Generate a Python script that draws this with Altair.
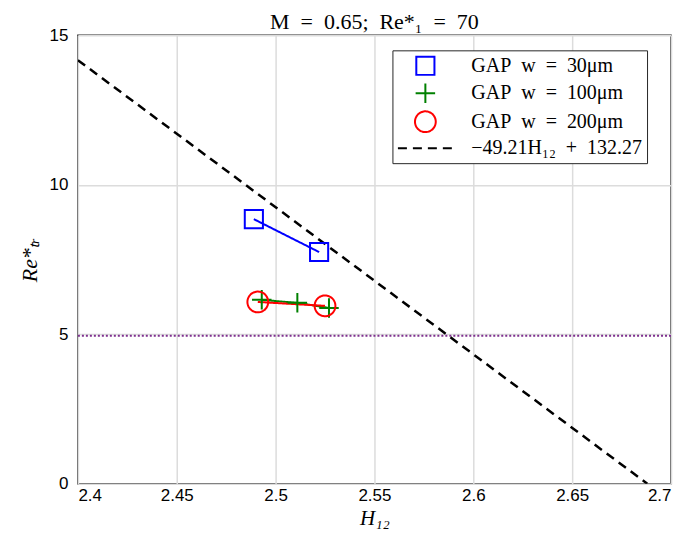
import altair as alt
import pandas as pd

S = "\u2002"
series_names = [f"GAP{S}w{S}={S}30μm", f"GAP{S}w{S}={S}100μm", f"GAP{S}w{S}={S}200μm",
                f"−49.21H₁₂{S}+{S}132.27"]
colors = ["#0000FF", "#008000", "#FF0000", "#000000"]

s30_x = [2.489, 2.522]
s30_y = [8.85, 7.75]
s100_x = [2.493, 2.511, 2.527]
s100_y = [6.15, 6.05, 5.88]
s200_x = [2.491, 2.525]
s200_y = [6.08, 5.95]
fit_x = [2.4, 2.688]
fit_y = [14.17, 0.0]
ref_y = [4.95]

x_ticks = [2.4, 2.45, 2.5, 2.55, 2.6, 2.65, 2.7]
y_ticks = [0, 5, 10, 15]

rows = []
for name, xs, ys in [(series_names[0], s30_x, s30_y),
                     (series_names[1], s100_x, s100_y),
                     (series_names[2], s200_x, s200_y)]:
    for i, (a, b) in enumerate(zip(xs, ys)):
        rows.append({"series": name, "x": a, "y": b, "order": i})
pts = pd.DataFrame(rows)
fit = pd.DataFrame({"series": series_names[3], "x": fit_x, "y": fit_y, "order": [0, 1]})
ref = pd.DataFrame({"y": ref_y})

plus_path = "M-1,0H1M0,-1V1"
dash_path = "M-2.5,0H2.5"
legend = alt.Legend(
    title=None, orient="none", legendX=315, legendY=15,
    strokeColor="#262626", padding=5, fillColor="white",
    labelFont="Liberation Serif", labelFontSize=20, labelColor="black", labelLimit=400,
    symbolStrokeWidth=2, rowPadding=0, symbolOffset=16, labelOffset=34, cornerRadius=0,
)
color = alt.Color("series:N", scale=alt.Scale(domain=series_names, range=colors), legend=legend)
shape = alt.Shape("series:N", scale=alt.Scale(domain=series_names,
                  range=["square", plus_path, "circle", dash_path]), legend=legend)
dash = alt.StrokeDash("series:N", scale=alt.Scale(domain=series_names,
                      range=[[1, 0], [1, 0], [1, 0], [9, 6]]), legend=legend)
size = alt.Size("series:N", scale=alt.Scale(domain=series_names,
                range=[330, 484, 625, 484]), legend=legend)

xenc = alt.X("x:Q", scale=alt.Scale(domain=[2.4, 2.7], nice=False),
             axis=alt.Axis(values=x_ticks, format="~g", title="H₁₂"))
yenc = alt.Y("y:Q", scale=alt.Scale(domain=[0, 15], nice=False),
             axis=alt.Axis(values=y_ticks, title="Re*ₜᵣ"))

ref_rule = alt.Chart(ref).mark_rule(color="#7E2F8E", strokeDash=[2, 2], strokeWidth=2).encode(y="y:Q")

lines = alt.Chart(pts).mark_line(strokeWidth=2).encode(
    x=xenc, y=yenc, color=color, strokeDash=dash, order="order:Q")
fit_line = alt.Chart(fit).mark_line(strokeWidth=2.5, clip=True).encode(
    x=xenc, y=yenc, color=color, strokeDash=dash, order="order:Q")
points = alt.Chart(pts).mark_point(filled=False, strokeWidth=2, opacity=1).encode(
    x=xenc, y=yenc, color=color, shape=shape, size=size, strokeDash=dash)

chart = alt.layer(ref_rule, fit_line, lines, points).properties(
    width=594, height=449,
    title=alt.TitleParams(f"M{S}={S}0.65;{S}Re*₁{S}={S}70", font="Liberation Serif", fontSize=22,
                          fontWeight="normal", color="black", offset=-8),
    padding={"left": 10, "top": 3, "right": 5, "bottom": 5},
).configure_view(stroke="#262626", strokeWidth=1.5).configure_axis(
    domain=False, ticks=False, grid=True, gridColor="#dcdcdc", gridWidth=1.5,
    labelFont="Liberation Sans", labelFontSize=17, labelColor="black",
    titleFont="Liberation Serif", titleFontSize=22, titleFontWeight="normal",
    titleFontStyle="italic", titleColor="black",
).configure_axisX(labelPadding=4, titlePadding=4, titleFontSize=21).configure_axisY(
    labelPadding=10, titlePadding=8)

chart.save("out.html", embed_options={"renderer": "svg", "actions": False})
